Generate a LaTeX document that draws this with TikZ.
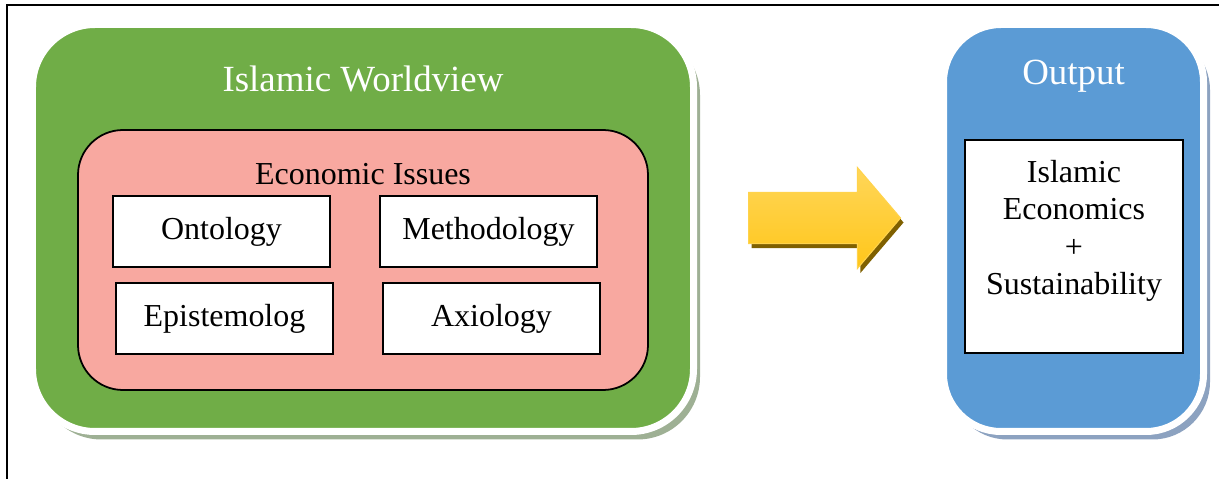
\documentclass[tikz,border=0pt]{standalone}
\usepackage{fontspec}
\setmainfont{Liberation Serif}
\definecolor{wvgreen}{RGB}{112, 173, 71}
\definecolor{issuepink}{RGB}{248, 168, 160}
\definecolor{outblue}{RGB}{91, 155, 213}
\definecolor{arrowgold}{RGB}{255, 192, 0}
\definecolor{arrowdark}{RGB}{127, 96, 0}
\definecolor{greenshade}{RGB}{158, 176, 148}
\definecolor{blueshade}{RGB}{140, 162, 192}
\usepackage{tikz}
\usetikzlibrary{shapes, shapes.arrows, arrows.meta, positioning, shadows}

\begin{document}
\begin{tikzpicture}[
  bigbox/.style={draw=white, line width=0.14cm, minimum height=8.14cm},
  item/.style={draw, fill=white, line width=1pt, minimum width=4.34cm, minimum height=1.42cm,
               font=\fontsize{18.2}{21}\selectfont},
  bigfont/.style={font=\fontsize{21}{25}\selectfont, text=white},
]
\useasboundingbox (0,0) rectangle (24.38,9.58);
% page frame
\draw[line width=0.05cm] (0.14,0) -- (0.14,9.48) -- (24.38,9.48);

% Worldview side
\node[bigbox, fill=wvgreen, rounded corners=1.25cm, minimum width=13.22cm,
      drop shadow={shadow xshift=0.13cm, shadow yshift=-0.16cm, fill=greenshade, opacity=1}]
      (view) at (7.26,5.02) {};
\node[bigfont, anchor=base] (viewtitle) at (7.26,7.74) {Islamic Worldview};

\node[draw, fill=issuepink, line width=1pt, rounded corners=0.9cm, minimum width=11.4cm,
      minimum height=5.2cm] (issues) at (7.26,4.38) {};
\node[anchor=base, font=\fontsize{18.2}{21}\selectfont] (issuestitle) at (7.26,5.88) {Economic Issues};

\node[item] (onto) at (4.43,4.95) {Ontology};
\node[item] (meth) at (9.77,4.95) {Methodology};
\node[item] (epis) at (4.49,3.21) {Epistemolog};
\node[item] (axio) at (9.83,3.21) {Axiology};

% Big arrow
\node[single arrow, single arrow head extend=0.5cm, single arrow tip angle=99,
      minimum height=3.04cm, inner sep=0pt, anchor=west,
      draw=arrowgold!70!white, line width=0.6pt,
      top color=arrowgold!65!white, middle color=arrowgold, bottom color=arrowgold!90!white,
      drop shadow={shadow xshift=0.06cm, shadow yshift=-0.09cm, fill=arrowdark, opacity=1}]
      (flow) at (14.96,5.22) {\rule{0pt}{1cm}};

% Output side
\node[bigbox, fill=outblue, rounded corners=1.15cm, minimum width=5.2cm,
      drop shadow={shadow xshift=0.13cm, shadow yshift=-0.16cm, fill=blueshade, opacity=1}]
      (out) at (21.47,5.02) {};
\node[bigfont, anchor=base] (outtitle) at (21.47,7.88) {Output};

\node[draw, fill=white, line width=1pt, minimum width=4.36cm, minimum height=4.26cm] (econ) at (21.48,4.65) {};
\node[font=\fontsize{18.2}{21.2}\selectfont, align=center, below=0.3cm of econ.north] (econtext)
     {Islamic\\Economics\\+\\Sustainability};
\end{tikzpicture}
\end{document}
